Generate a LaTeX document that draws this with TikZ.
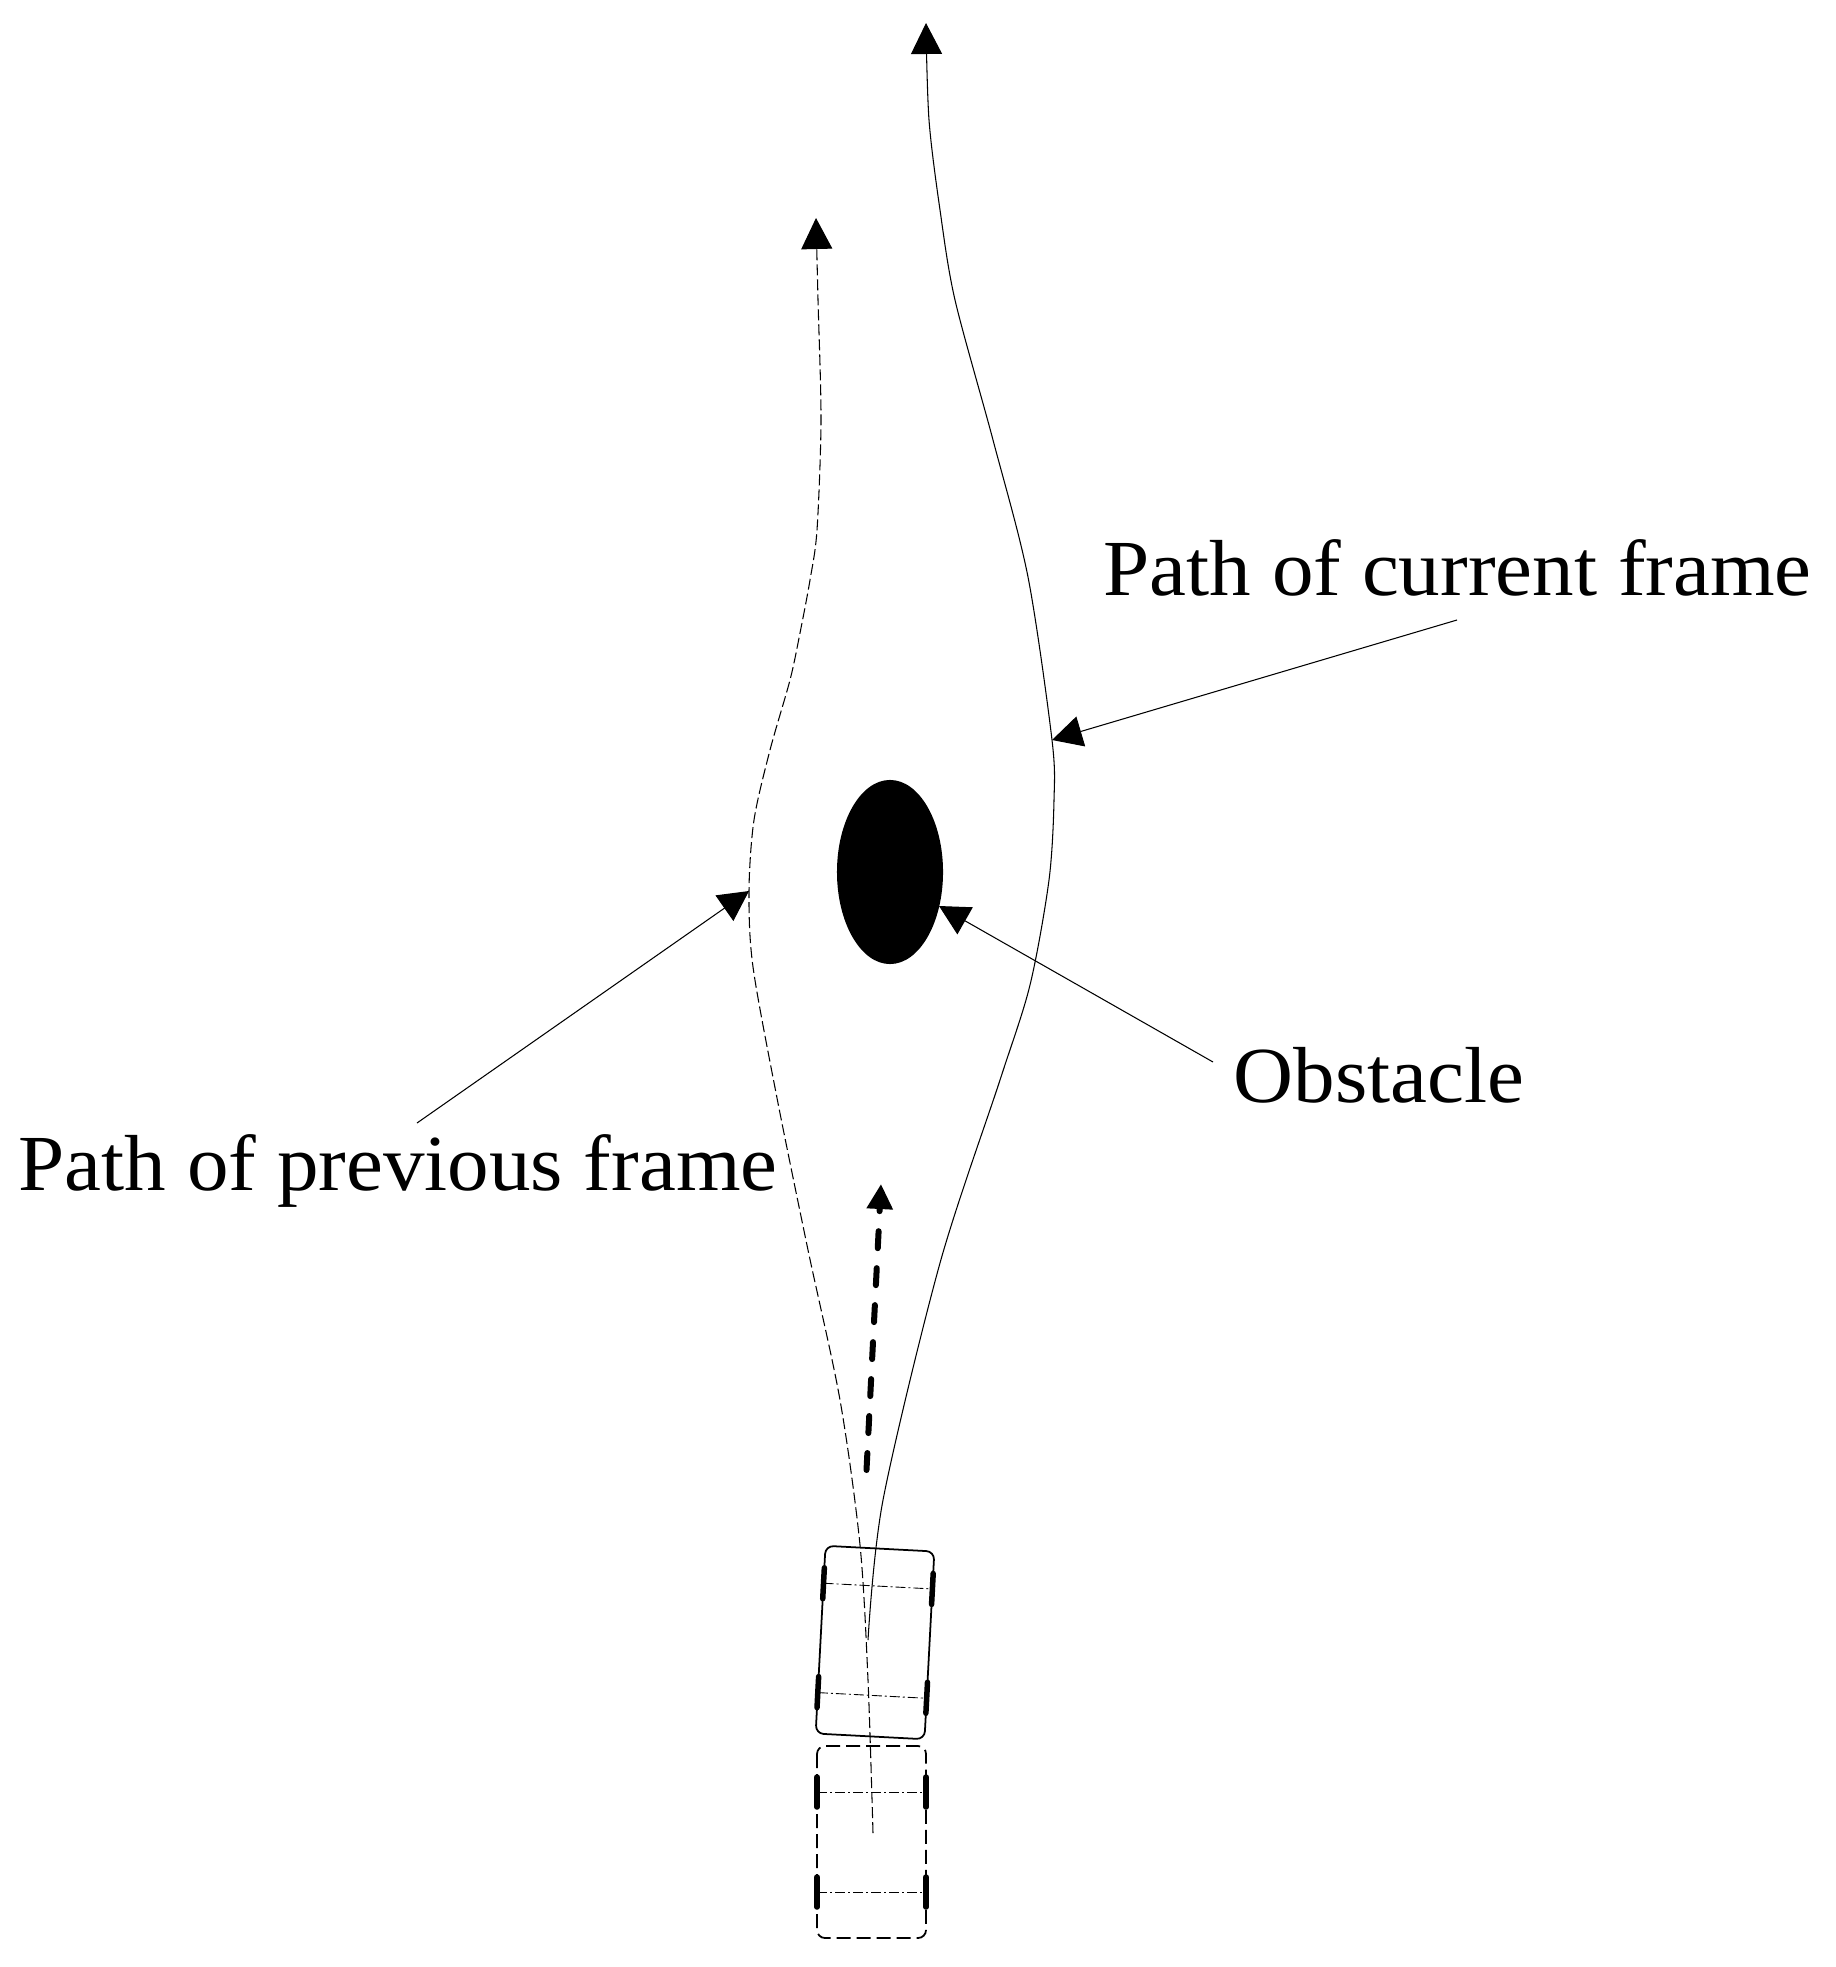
\documentclass[tikz,border=0pt]{standalone}
\usepackage{fontspec}
\setmainfont{Liberation Serif}
\usetikzlibrary{arrows.meta,shapes.geometric}
\tikzset{
  pathline/.style={line width=0.3pt},
  prevline/.style={line width=0.3pt, dash pattern=on 0.11cm off 0.04cm},
  tiparrow/.style={-{Triangle[length=0.31cm,width=0.31cm]}},
  labarrow/.style={line width=0.3pt,-{Triangle[length=0.30cm,width=0.31cm]}},
  label/.style={inner sep=0pt, anchor=base west, font=\fontsize{22.6}{26}\selectfont},
  carbody/.style={line width=0.5pt, rounded corners=0.08cm},
  axle/.style={line width=0.25pt, dash pattern=on 0.10cm off 0.03cm on 0.02cm off 0.03cm},
  wheel/.style={line width=0.055cm, line cap=round},
}
\newcommand{\lbltext}[1]{\scalebox{1.045}[1]{#1}}
\begin{document}
\begin{tikzpicture}[x=0.01cm,y=-0.01cm]
\useasboundingbox (0,0) rectangle (1835,1967);
% obstacle
\node[ellipse, fill=black, inner sep=0pt, minimum width=1.06cm, minimum height=1.84cm] (obst) at (890,872) {};
% labels
\node[label] (lcur) at (1103,595) {\lbltext{Path of current frame}};
\node[label] (lprev) at (18,1190) {\lbltext{Path of previous frame}};
\node[label] (lobs) at (1233,1102) {\lbltext{Obstacle}};
% named points
\coordinate (curtop) at (926,23);
\coordinate (curend) at (868,1640);
\coordinate (prevtop) at (816,218);
\coordinate (prevend) at (873,1833);
\coordinate (curhit) at (1052,740);
\coordinate (prevhit) at (749,891);
\coordinate (obshit) at (939,906);
\coordinate (curfrom) at (1457,620);
\coordinate (prevfrom) at (417,1123);
\coordinate (obsfrom) at (1213,1062);
% current path (solid)
\draw[pathline,tiparrow] plot[smooth] coordinates {(curend) (883,1500) (940,1263) (1000,1080) (1030,985) (1049,880) (1054,800) (1052,740) (1028,577) (993,440) (955,300) (940,210) (929,120) (curtop)};
% previous path (dashed)
\draw[prevline,tiparrow] plot[smooth] coordinates {(prevend) (868,1680) (860,1545) (840,1400) (808,1250) (777,1098) (753,967) (749,891) (754,820) (770,750) (790,680) (800,633) (810,580) (817,530) (821,420) (818,300) (prevtop)};
% label arrows
\draw[labarrow] (curfrom) -- (curhit);
\draw[labarrow] (prevfrom) -- (prevhit);
\draw[labarrow] (obsfrom) -- (obshit);
% heading arrow (thick dashed)
\coordinate (hfrom) at (866.5,1470);
\coordinate (hto) at (881,1184);
\draw[line width=0.06cm, line cap=round, dash pattern=on 0.17cm off 0.20cm, -{Triangle[length=0.25cm,width=0.25cm]}] (hfrom) -- (hto);
% current car (solid, rotated)
\begin{scope}[shift={(875,1642.5)}, rotate=-3]
  \draw[carbody] (-54.5,-94) rectangle (54.5,94);
  \draw[axle] (-54.5,-56.5) -- (54.5,-56.5);
  \draw[axle] (-54.5,53) -- (54.5,53);
  \draw[wheel] (-54.5,-72) -- (-54.5,-41);
  \draw[wheel] (54.5,-72) -- (54.5,-41);
  \draw[wheel] (-54.5,37) -- (-54.5,68);
  \draw[wheel] (54.5,37) -- (54.5,68);
\end{scope}
% previous car (dashed)
\begin{scope}[shift={(871.5,1842)}]
  \draw[carbody, dash pattern=on 0.14cm off 0.06cm] (-54.5,-96) rectangle (54.5,96);
  \draw[axle] (-54.5,-50) -- (54.5,-50);
  \draw[axle] (-54.5,50) -- (54.5,50);
  \draw[wheel] (-54.5,-65) -- (-54.5,-35);
  \draw[wheel] (54.5,-65) -- (54.5,-35);
  \draw[wheel] (-54.5,35) -- (-54.5,65);
  \draw[wheel] (54.5,35) -- (54.5,65);
\end{scope}
\end{tikzpicture}
\end{document}
